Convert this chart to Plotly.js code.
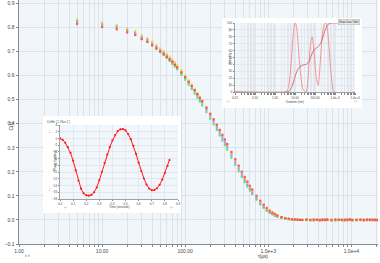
<!DOCTYPE html>
<html>
<head>
<meta charset="utf-8">
<script src="https://cdn.plot.ly/plotly-3.0.1.min.js"></script>
<style>
  html, body { margin:0; padding:0; background:#fff; }
  #wrap { position:relative; width:380px; height:263px; overflow:hidden; }
  #main { position:absolute; left:0; top:0; width:380px; height:263px; }
  #sizeInset { position:absolute; left:222px; top:18px; width:140px; height:90px; z-index:2; }
  #phaseInset { position:absolute; left:43px; top:116px; width:138px; height:97px; z-index:2; }
</style>
</head>
<body>
<div id="wrap">
  <div id="main"></div>
  <div id="sizeInset"></div>
  <div id="phaseInset"></div>
</div>
<script>
// ---------------- DATA ----------------
const tau = [5,10,15,20,25,30,35,40,45,50,55,60,65,70,75,80,
  90,100,110,120,130,140,150,160,
  180,200,220,240,260,280,300,320,
  360,400,440,480,520,560,600,640,
  720,800,880,960,1040,1120,1200,1280,
  1440,1600,1760,1920,2080,2240,2400,2560,
  2880,3200,3520,3840,4160,4480,4800,5120,
  5760,6400,7040,7680,8320,8960,9600,10240,
  11520,12800,14080,15360,16640,17920,19200,20480];

const cRed = [.814,.801,.792,.779,.768,.751,.740,.726,.713,.700,.689,.678,.666,.656,.644,.634,
  .613,.593,.574,.557,.540,.523,.508,.494,
  .467,.441,.418,.396,.374,.354,.335,.316,
  .283,.253,.226,.201,.179,.160,.142,.127,
  .101,.080,.064,.050,.039,.031,.025,.019,
  .012,.008,.005,.003,.002,.001,.000,.000,
  .001,-.001,.002,.000,-.002,.001,.000,.001,
  -.001,.002,.000,-.001,.001,.000,.002,-.001,
  .000,.001,-.002,.001,.000,.001,-.001,.000];
const cOrange = [.818,.806,.796,.783,.772,.755,.743,.729,.716,.702,.691,.680,.668,.657,.646,.635,
  .613,.594,.574,.557,.539,.523,.507,.492,
  .465,.440,.416,.393,.372,.351,.332,.313,
  .279,.249,.222,.198,.176,.157,.139,.124,
  .098,.078,.061,.048,.037,.030,.023,.018,
  .011,.007,.005,.003,.001,.001,.000,.000,
  .000,.002,-.001,.001,.000,-.001,.002,.000,
  .001,-.002,.000,.001,-.001,.000,.001,.002,
  -.001,.000,.001,-.001,.002,.000,-.001,.001];
const cYellow = [.834,.821,.811,.797,.786,.768,.756,.742,.728,.714,.703,.691,.679,.668,.656,.645,
  .623,.602,.582,.564,.546,.529,.513,.498,
  .470,.443,.419,.396,.374,.353,.333,.314,
  .280,.249,.222,.197,.175,.155,.138,.123,
  .097,.076,.060,.046,.036,.029,.022,.017,
  .011,.006,.004,.002,.001,.001,.000,.000,
  -.001,.001,.000,.002,-.001,.000,.001,-.002,
  .001,.000,.002,-.001,.000,.001,-.001,.000,
  .002,-.001,.001,.000,-.002,.001,.000,.002];
const cViolet = [.830,.817,.807,.792,.781,.763,.751,.737,.722,.708,.697,.685,.673,.662,.649,.638,
  .616,.596,.576,.557,.539,.522,.506,.491,
  .462,.436,.412,.388,.366,.345,.326,.307,
  .272,.242,.215,.191,.169,.150,.132,.118,
  .093,.072,.056,.044,.033,.027,.021,.016,
  .010,.006,.004,.002,.001,.001,.000,.000,
  .002,.000,-.001,.001,.000,.002,-.001,.000,
  -.001,.001,.002,.000,-.002,.001,.000,-.001,
  .001,.000,.002,-.001,.000,.001,.002,-.001];
const cCyan = [.826,.812,.802,.788,.776,.758,.746,.732,.717,.703,.692,.679,.667,.656,.644,.633,
  .610,.590,.569,.551,.533,.516,.499,.484,
  .456,.429,.405,.382,.359,.338,.319,.300,
  .266,.236,.209,.185,.164,.145,.128,.113,
  .089,.069,.054,.041,.031,.025,.019,.014,
  .009,.005,.003,.002,.001,.001,.000,.000,
  .000,-.001,.001,.000,.002,-.001,.000,.001,
  .000,-.002,.001,.000,.001,-.001,.002,.000,
  -.001,.001,.000,.000,.001,-.001,.001,.000];
const cGreen = [.821,.807,.796,.782,.770,.752,.740,.725,.711,.697,.685,.673,.661,.649,.637,.626,
  .603,.583,.562,.544,.525,.508,.492,.476,
  .448,.421,.397,.374,.351,.330,.311,.292,
  .258,.229,.202,.179,.157,.139,.122,.108,
  .084,.065,.050,.038,.029,.023,.017,.013,
  .008,.004,.003,.001,.000,.000,.000,.000,
  .001,.000,-.002,.001,-.001,.000,.001,.002,
  -.001,.000,.000,.001,-.001,.002,.000,-.001,
  .000,.001,-.001,.002,.000,-.001,.000,.001];

const seriesNames = ['Green','Cyan','Violet','Yellow','Orange','Red'];
const seriesColors = ['#44dd44','#55b8ff','#c878ff','#f0e020','#ffa030','#ff4040'];
const seriesValues = [cGreen, cCyan, cViolet, cYellow, cOrange, cRed];

const mainXLabels = ['1.00','10.00','100.00','1.0e+3','1.0e+4'];

// size distribution inset
const sizeX    = [0.01,3.5,4.5,5.5,6.5,7.5,8.5,9.5,10.5,11.5,13,15,17,20,24,30,36,42,50,60,71,85,100,120,145,170,200,240,290,347,420,500,600,720,890,10000];
const sizeDist = [0,0,5,20,45,70,88,98,100,97,85,62,40,20,6,1,0,10,40,70,80,65,40,18,10,30,60,85,98,100,90,65,35,12,0,0];
const cumX     = [0.01,3.7,5,7,9,11,14,18,25,36,50,60,75,95,120,150,200,250,320,420,560,700,5900];
const cumY     = [0,0,1,8,18,26,33,37,39,40,44,50,57,62,64,66,72,80,90,97,99.5,100,100];
const sizeXLabels = ['0.01','0.10','1.00','10.00','100.00','1.0e+3','1.0e+4'];

// phase inset
const phaseT = [0,0.02,0.04,0.06,0.08,0.10,0.12,0.14,0.16,0.18,0.20,0.22,0.24,0.26,0.28,0.30,0.32,0.34,0.36,0.38,0.40,
  0.42,0.44,0.46,0.48,0.50,0.52,0.54,0.56,0.58,0.60,0.62,0.64,0.66,0.68,0.70,0.72,0.74,0.76,0.78,0.80,0.82,0.835];
const phaseV = [0.0,-0.4,-1.3,-2.6,-4.3,-6.6,-9.5,-12.5,-14.9,-16.3,-16.9,-17.0,-16.8,-16.0,-14.6,-12.4,-9.9,-7.3,-4.8,-2.6,-0.6,
  1.0,2.2,2.7,2.8,2.4,1.3,-0.2,-2.2,-4.6,-7.2,-9.7,-11.9,-13.7,-14.9,-15.4,-15.3,-14.8,-13.8,-12.2,-10.3,-8.2,-6.4];

// ---------------- HELPERS ----------------
function logTicks(d0, d1, labels) {
  const vals = [], txt = [];
  for (let d = d0; d <= d1; d++) {
    for (let m = 1; m <= 9; m++) {
      vals.push(+(m * Math.pow(10, d)).toPrecision(6));
      txt.push(m === 1 ? labels[d - d0] : '');
    }
  }
  return {vals, txt};
}
const FONT = 'Liberation Sans, Arial, sans-serif';
const BG = '#f1f6fb';
const GRID = '#dde2e8';
const cfg = {staticPlot: true, displayModeBar: false};

// ---------------- MAIN ----------------
const mt = logTicks(0, 4, mainXLabels);
const mainTraces = seriesValues.map((v, i) => ({
  type: 'scatter', mode: 'markers', name: seriesNames[i],
  x: tau, y: v,
  marker: {symbol: 'square', size: 2.1, color: seriesColors[i], line: {width: 0}},
  opacity: 0.8
}));
const tf = {family: FONT, size: 5, color: '#444'};
Plotly.newPlot('main', mainTraces, {
  width: 380, height: 263,
  margin: {l: 19, r: 2, t: 0, b: 19, pad: 0},
  paper_bgcolor: '#ffffff', plot_bgcolor: BG,
  showlegend: false,
  xaxis: {type: 'log', range: [0, 4.32], tickmode: 'array', tickvals: mt.vals, ticktext: mt.txt,
    ticks: 'outside', ticklen: 2, tickcolor: '#888', showgrid: true, gridcolor: GRID, gridwidth: 1,
    showline: true, linecolor: '#8a8a8a', linewidth: 1, zeroline: false, tickfont: tf},
  yaxis: {range: [-0.1, 0.914], tick0: 0, dtick: 0.1, tickformat: '.1f',
    ticks: 'outside', ticklen: 2, tickcolor: '#888', showgrid: true, gridcolor: GRID, gridwidth: 1,
    showline: true, linecolor: '#8a8a8a', linewidth: 1.5, zeroline: false, tickfont: tf},
  annotations: [
    {text: 'C(τ)', xref: 'paper', yref: 'paper', x: -0.037, y: 0.484, textangle: -90, showarrow: false,
     font: {family: FONT, size: 5, color: '#333'}},
    {text: 'τ(µs)', xref: 'paper', yref: 'paper', x: 0.699, y: -0.068, showarrow: false,
     font: {family: FONT, size: 4.6, color: '#333'}},
    {text: '‹ ›', xref: 'paper', yref: 'paper', x: 0.011, y: -0.066, showarrow: false,
     font: {family: FONT, size: 5, color: '#333'}}
  ]
}, cfg);

// ---------------- SIZE INSET ----------------
const st = logTicks(-2, 4, sizeXLabels);
const tf3 = {family: FONT, size: 3, color: '#444'};
Plotly.newPlot('sizeInset', [
  {type: 'scatter', mode: 'lines', x: sizeX, y: sizeDist, line: {color: '#f08a8a', width: 0.9, shape: 'spline', smoothing: 0.8}},
  {type: 'scatter', mode: 'lines', x: cumX, y: cumY, line: {color: '#d85a5a', width: 0.9, shape: 'spline', smoothing: 0.6}}
], {
  width: 140, height: 90,
  margin: {l: 13, r: 7, t: 5, b: 16, pad: 0},
  paper_bgcolor: '#ffffff', plot_bgcolor: BG, showlegend: false,
  xaxis: {type: 'log', range: [-2, 4], tickmode: 'array', tickvals: st.vals, ticktext: st.txt,
    ticks: 'outside', ticklen: 2.5, tickcolor: '#888', showgrid: true, gridcolor: GRID, gridwidth: 0.7,
    showline: true, linecolor: '#8a8a8a', linewidth: 0.8, zeroline: false, tickfont: tf3},
  yaxis: {range: [0, 100], tick0: 0, dtick: 10, ticks: 'outside', ticklen: 1.5, tickcolor: '#888',
    showgrid: true, gridcolor: GRID, gridwidth: 0.7, showline: true, linecolor: '#8a8a8a', linewidth: 0.8,
    zeroline: false, tickfont: tf3},
  annotations: [
    {text: 'Intensity', xref: 'paper', yref: 'paper', x: -0.075, y: 0.493, textangle: -90, showarrow: false, font: tf3},
    {text: 'Diameter (nm)', xref: 'paper', yref: 'paper', x: 0.5, y: -0.205, showarrow: false,
     font: {family: FONT, size: 2.8, color: '#444'}},
    {text: '‹ ›', xref: 'paper', yref: 'paper', x: -0.083, y: 0.942, textangle: -90, showarrow: false, font: tf3},
    {text: '‹ ›', xref: 'paper', yref: 'paper', x: -0.083, y: 0.043, textangle: -90, showarrow: false, font: tf3},
    {text: '‹ ›', xref: 'paper', yref: 'paper', x: -0.08, y: -0.2, showarrow: false, font: tf3},
    {text: '‹ ›', xref: 'paper', yref: 'paper', x: 1.035, y: -0.2, showarrow: false, font: tf3},
    {text: 'Show Data Table', xref: 'paper', yref: 'paper', x: 1.04, y: 1.062, xanchor: 'right', yanchor: 'top',
     showarrow: false, bgcolor: '#e9e9e9', bordercolor: '#b0b0b0', borderwidth: 0.5, borderpad: 0.5,
     font: {family: FONT, size: 2.6, color: '#333'}}
  ]
}, cfg);

// ---------------- PHASE INSET ----------------
Plotly.newPlot('phaseInset', [
  {type: 'scatter', mode: 'lines+markers', x: phaseT, y: phaseV,
   line: {color: '#ff1a1a', width: 1}, marker: {color: '#ff1a1a', size: 2.2}}
], {
  width: 138, height: 97,
  margin: {l: 17, r: 3, t: 9, b: 14, pad: 0},
  paper_bgcolor: '#ffffff', plot_bgcolor: BG, showlegend: false,
  xaxis: {range: [0, 0.9], tick0: 0, dtick: 0.1, tickformat: '.1f', ticks: 'outside', ticklen: 1.5, tickcolor: '#888',
    showgrid: true, gridcolor: GRID, gridwidth: 0.7, showline: true, linecolor: '#8a8a8a', linewidth: 0.8,
    zeroline: false, tickfont: tf3},
  yaxis: {range: [-18, 4], tick0: 0, dtick: 2, ticks: 'outside', ticklen: 1.5, tickcolor: '#888',
    showgrid: true, gridcolor: GRID, gridwidth: 0.7, showline: true, linecolor: '#8a8a8a', linewidth: 0.8,
    zeroline: false, tickfont: tf3},
  annotations: [
    {text: '0.0Hz [ 1.76e+1 ]', xref: 'paper', yref: 'paper', x: -0.127, y: 1.095, xanchor: 'left', showarrow: false, font: tf3},
    {text: 'Phase (radians)', xref: 'paper', yref: 'paper', x: -0.076, y: 0.514, textangle: -90, showarrow: false, font: tf3},
    {text: 'Time (seconds)', xref: 'paper', yref: 'paper', x: 0.508, y: -0.165, showarrow: false, font: tf3},
    {text: '‹ ›', xref: 'paper', yref: 'paper', x: -0.123, y: 0.959, textangle: -90, showarrow: false, font: tf3},
    {text: '‹ ›', xref: 'paper', yref: 'paper', x: -0.123, y: 0.081, textangle: -90, showarrow: false, font: tf3},
    {text: '‹ ›', xref: 'paper', yref: 'paper', x: 0.017, y: -0.17, showarrow: false, font: tf3},
    {text: '‹ ›', xref: 'paper', yref: 'paper', x: 0.975, y: -0.17, showarrow: false, font: tf3}
  ]
}, cfg);
</script>
</body>
</html>
